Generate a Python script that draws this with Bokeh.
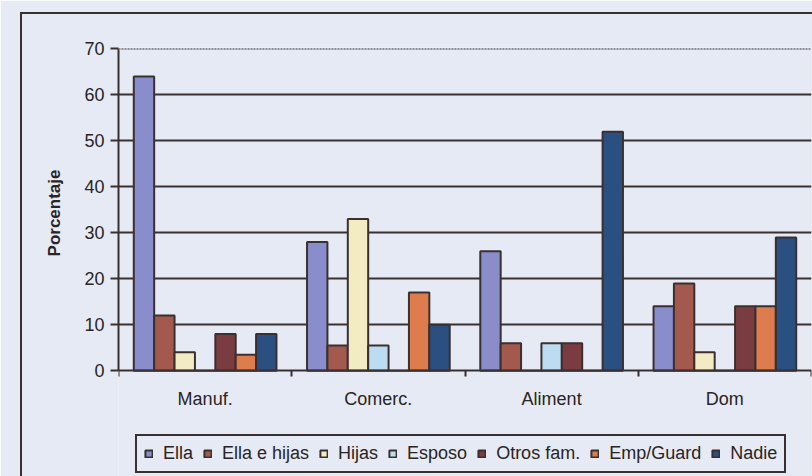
from bokeh.plotting import figure
from bokeh.models import (ColumnDataSource, FixedTicker, Span, InlineStyleSheet, Title)
from bokeh.transform import dodge
from bokeh.embed import file_html
from bokeh.resources import INLINE

categories = ["Manuf.", "Comerc.", "Aliment", "Dom"]
series_names = ["Ella", "Ella e hijas", "Hijas", "Esposo", "Otros fam.", "Emp/Guard", "Nadie"]
ella = [64, 28, 26, 14]
ella_hijas = [12, 5.5, 6, 19]
hijas = [4, 33, 0, 4]
esposo = [0, 5.5, 6, 0]
otros_fam = [8, 0, 6, 14]
emp_guard = [3.5, 17, 0, 14]
nadie = [8, 10, 52, 29]
y_ticks = [0, 10, 20, 30, 40, 50, 60, 70]

series_values = [ella, ella_hijas, hijas, esposo, otros_fam, emp_guard, nadie]
colors = ["#8a8dcc", "#a4594e", "#f3ebc3", "#bcdcf2", "#7a3c40", "#dd7d4d", "#2c4f82"]

BG = "#e5eaf4"
INK = "#3a3030"
FONT = "Liberation Sans"

p = figure(width=812, height=476, output_backend="svg", toolbar_location=None,
           x_range=(0, 4), y_range=(-23.0, 70.3),
           min_border_left=118, min_border_right=1, min_border_top=47, min_border_bottom=0,
           background_fill_color=BG, border_fill_color=BG, outline_line_color=None)

centers = [i + 0.5 for i in range(len(categories))]
gap = 1.5
nser = len(series_names)
bw = 1.0 / (nser + gap)
for j, (name, vals, c) in enumerate(zip(series_names, series_values, colors)):
    src = ColumnDataSource(dict(x=centers, top=vals))
    off = (j - (nser - 1) / 2) * bw
    p.vbar(x=dodge("x", off), top="top", bottom=0, width=bw, source=src,
           fill_color=c, line_color=INK, line_width=2, legend_label=name)

# axes
p.yaxis.bounds = (0, 70)
p.yaxis.ticker = FixedTicker(ticks=y_ticks)
p.yaxis.axis_line_color = INK
p.yaxis.axis_line_width = 2
p.yaxis.major_tick_line_color = INK
p.yaxis.major_tick_line_width = 2
p.yaxis.major_tick_out = 8
p.yaxis.major_tick_in = 0
p.yaxis.minor_tick_line_color = None
p.yaxis.major_label_text_font = FONT
p.yaxis.major_label_text_font_size = "18px"
p.yaxis.major_label_text_color = "#2a2424"
p.yaxis.major_label_standoff = 6

ylabel = Title(text="Porcentaje", align="right", offset=122, standoff=36,
               text_font=FONT, text_font_style="bold", text_font_size="17px",
               text_color="#2a2424")
p.add_layout(ylabel, "left")

p.xaxis.fixed_location = 0
p.xaxis.ticker = FixedTicker(ticks=centers, minor_ticks=[0, 1, 2, 3, 4])
p.xaxis.major_label_overrides = {c: lab for c, lab in zip(centers, categories)}
p.xaxis.axis_line_color = INK
p.xaxis.axis_line_width = 2
p.xaxis.major_tick_line_color = None
p.xaxis.major_tick_out = 0
p.xaxis.major_tick_in = 0
p.xaxis.minor_tick_line_color = INK
p.xaxis.minor_tick_line_width = 2
p.xaxis.minor_tick_out = 6
p.xaxis.minor_tick_in = 0
p.xaxis.major_label_text_font = FONT
p.xaxis.major_label_text_font_size = "18px"
p.xaxis.major_label_text_color = "#2a2424"
p.xaxis.major_label_standoff = 12

p.xgrid.grid_line_color = None
p.ygrid.ticker = FixedTicker(ticks=[10, 20, 30, 40, 50, 60])
p.ygrid.grid_line_color = INK
p.ygrid.grid_line_width = 2
p.add_layout(Span(location=70, dimension="width", line_color="#8a8a95",
                  line_width=2, line_dash="2 1"))

leg = p.legend[0]
leg.orientation = "horizontal"
leg.location = (17, 3)
leg.label_text_font = FONT
leg.label_text_font_size = "18px"
leg.label_text_color = "#2a2424"
leg.glyph_width = 9
leg.glyph_height = 9
leg.label_standoff = 10
leg.spacing = 10
leg.padding = 7
leg.margin = 0
leg.border_line_color = INK
leg.border_line_width = 2
leg.border_line_alpha = 1
leg.background_fill_color = BG
leg.background_fill_alpha = 1

# outer chart frame border (left and top edges)
p.stylesheets = [InlineStyleSheet(css=(
    ":host::after{content:'';position:absolute;left:20px;top:12px;right:0;bottom:0;"
    "border-left:2px solid #3a3030;border-top:2px solid #3a3030;"
    "pointer-events:none;box-sizing:border-box;}"))]

open("out.html", "w").write(file_html(p, INLINE))
